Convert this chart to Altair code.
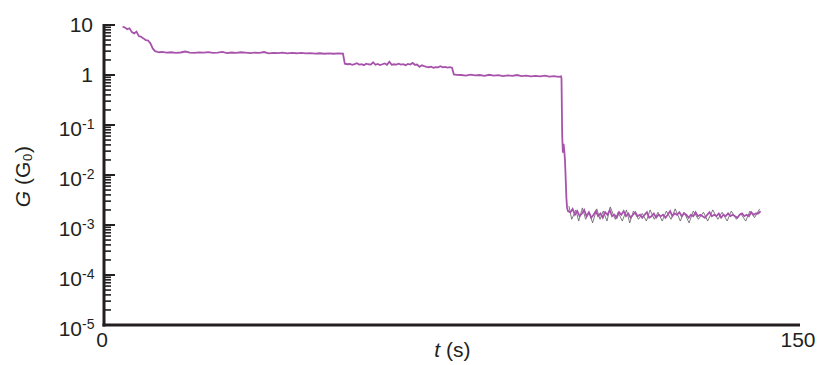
import altair as alt
import pandas as pd

# ---- trace data ----
t_a = [4.0, 4.5, 5.0, 5.5, 6.0, 6.5, 7.0, 7.5, 8.0, 8.5, 9.0, 9.5, 10.0, 10.5, 11.0, 11.5, 12.0]
g_a = [9.3, 8.9, 8.2, 8.6, 7.2, 6.8, 7.4, 6.0, 5.8, 5.4, 5.0, 4.9, 4.3, 3.4, 3.0, 2.9, 2.85]

t_b = [12.5, 13.5, 14.5, 15.5, 16.5, 17.5, 18.5, 19.5, 20.5, 21.5, 22.5, 23.5, 24.5, 25.5,
       26.5, 27.5, 28.5, 29.5, 30.5, 31.5, 32.5, 33.5, 34.5, 35.5, 36.5, 37.5, 38.5, 39.5,
       40.5, 41.5, 42.5, 43.5, 44.5, 45.5, 46.5, 47.5, 48.5, 49.5, 50.5, 51.5]
g_b = [2.9, 2.8, 2.85, 2.78, 2.82, 2.95, 2.8, 2.76, 2.84, 2.8, 2.86, 2.78, 2.8, 2.9,
       2.75, 2.82, 2.78, 2.85, 2.8, 2.74, 2.8, 2.76, 2.88, 2.72, 2.78, 2.74, 2.8, 2.7,
       2.76, 2.72, 2.78, 2.7, 2.74, 2.68, 2.72, 2.66, 2.7, 2.66, 2.7, 2.68]

t_c = [51.9, 52.5, 53.0, 53.5, 54.0, 54.5, 55.0, 55.5, 56.0, 56.5, 57.0, 57.5, 58.0, 58.5,
       59.0, 59.5, 60.0, 60.5, 61.0, 61.5, 62.0, 62.5, 63.0, 63.5, 64.0, 64.5, 65.0, 65.5,
       66.0, 66.5, 67.0, 67.5, 68.0, 68.5, 69.0, 69.5, 70.0, 70.5, 71.0, 71.5, 72.0, 72.5,
       73.0, 73.5, 74.0, 74.5, 75.0]
g_c = [1.68, 1.64, 1.66, 1.6, 1.65, 1.72, 1.62, 1.64, 1.57, 1.68, 1.64, 1.62, 1.8, 1.6,
       1.66, 1.58, 1.64, 1.7, 1.6, 1.84, 1.6, 1.64, 1.62, 1.68, 1.61, 1.65, 1.56, 1.66,
       1.62, 1.74, 1.6, 1.62, 1.46, 1.56, 1.5, 1.46, 1.43, 1.47, 1.4, 1.44, 1.42, 1.5,
       1.42, 1.45, 1.4, 1.43, 1.4]

t_d = [75.4, 76.0, 77.0, 78.0, 79.0, 80.0, 81.0, 82.0, 83.0, 84.0, 85.0, 86.0, 87.0, 88.0,
       89.0, 90.0, 91.0, 92.0, 93.0, 94.0, 95.0, 96.0, 97.0, 98.0, 98.5]
g_d = [1.03, 1.01, 1.0, 0.97, 1.02, 0.98, 1.0, 0.96, 1.01, 0.97, 0.99, 0.95, 0.98, 0.96,
       1.0, 0.95, 0.97, 0.94, 0.96, 0.94, 0.97, 0.93, 0.95, 0.92, 0.94]

t_drop = [98.6, 98.75, 98.9, 99.05, 99.2, 99.35, 99.5, 99.65, 99.8, 100.0]
g_drop = [0.85, 0.06, 0.028, 0.042, 0.03, 0.02, 0.0085, 0.0035, 0.0022, 0.0019]

t_e = [100.5, 101.0, 101.5, 102.0, 102.5, 103.0, 103.5, 104.0, 104.5, 105.0, 105.5, 106.0,
       106.5, 107.0, 107.5, 108.0, 108.5, 109.0, 109.5, 110.0, 110.5, 111.0, 111.5, 112.0,
       112.5, 113.0, 113.5, 114.0, 114.5, 115.0, 115.5, 116.0, 116.5, 117.0, 117.5, 118.0,
       118.5, 119.0, 119.5, 120.0, 120.5, 121.0, 121.5, 122.0, 122.5, 123.0, 123.5, 124.0,
       124.5, 125.0, 125.5, 126.0, 126.5, 127.0, 127.5, 128.0, 128.5, 129.0, 129.5, 130.0,
       130.5, 131.0, 131.5, 132.0, 132.5, 133.0, 133.5, 134.0, 134.5, 135.0, 135.5, 136.0,
       136.5, 137.0, 137.5, 138.0, 138.5, 139.0, 139.5, 140.0, 140.5, 141.0, 141.5]
g_e = [0.0018, 0.0021, 0.0016, 0.0019, 0.0015, 0.0017, 0.0020, 0.0015, 0.0018, 0.0014, 0.0016, 0.0019,
       0.0015, 0.0017, 0.0014, 0.0018, 0.0016, 0.0020, 0.0015, 0.0016, 0.0014, 0.0018, 0.0016, 0.0019,
       0.0015, 0.0017, 0.0014, 0.0016, 0.0018, 0.0015, 0.0016, 0.0014, 0.0016, 0.0018, 0.0014, 0.0015,
       0.0017, 0.0014, 0.0016, 0.0015, 0.0016, 0.0014, 0.0016, 0.0019, 0.0015, 0.0017, 0.0016, 0.0018,
       0.0015, 0.0017, 0.0016, 0.0014, 0.0016, 0.0015, 0.0018, 0.0015, 0.0016, 0.0015, 0.0014, 0.0016,
       0.0018, 0.0015, 0.0016, 0.0015, 0.0017, 0.0014, 0.0016, 0.0015, 0.0017, 0.0015, 0.0016, 0.0015,
       0.0014, 0.0016, 0.0017, 0.0015, 0.0016, 0.0015, 0.0018, 0.0016, 0.0017, 0.0017, 0.0019]

# darker raw trace visible under the purple one in the low-conductance region
t_gray = [100.2, 100.8, 101.7, 102.3, 103.1, 103.8, 104.6, 105.3, 106.2, 106.9, 107.6, 108.4,
          109.1, 110.2, 110.8, 111.7, 112.6, 113.3, 114.1, 115.2, 116.0, 116.9, 117.7, 118.6,
          119.4, 120.3, 121.2, 122.2, 123.1, 124.2, 125.0, 126.1, 127.0, 128.1, 129.2, 130.1,
          131.2, 132.3, 133.2, 134.3, 135.2, 136.3, 137.2, 138.3, 139.2, 140.2, 141.3]
g_gray = [0.0024, 0.0013, 0.0020, 0.0012, 0.0022, 0.0013, 0.0018, 0.0011, 0.0021, 0.0013, 0.0019,
          0.0012, 0.0023, 0.0013, 0.0018, 0.0012, 0.0020, 0.0011, 0.0019, 0.0013, 0.0017, 0.0012,
          0.0020, 0.0013, 0.0018, 0.0012, 0.0019, 0.0013, 0.0021, 0.0012, 0.0018, 0.0011, 0.0019,
          0.0013, 0.0018, 0.0012, 0.0020, 0.0013, 0.0018, 0.0012, 0.0019, 0.0013, 0.0017, 0.0012,
          0.0019, 0.0014, 0.0021]

# ---- axis tick data ----
major_ticks = [1e-5, 1e-4, 1e-3, 1e-2, 1e-1, 1, 10]
minor_mults = [2, 3, 4, 5, 6, 7, 8, 9]
minor_decades = [1e-5, 1e-4, 1e-3, 1e-2, 1e-1, 1]
minor_ticks = [m * d for d in minor_decades for m in minor_mults]
plain_label_vals = [10, 1]
plain_label_txt = ["10", "1"]
exp_label_vals = [1e-1, 1e-2, 1e-3, 1e-4, 1e-5]
exp_label_txt = ["-1", "-2", "-3", "-4", "-5"]
x_label_vals = [0, 150]
x_label_txt = ["0", "150"]

FONT = "Liberation Sans"
INK = "#231f20"
W, H = 696, 300

t_all = t_a + t_b + t_c + t_d + t_drop + t_e
g_all = g_a + g_b + g_c + g_d + g_drop + g_e
main_df = pd.DataFrame({"t": t_all, "G": g_all})
gray_df = pd.DataFrame({"t": t_gray, "G": g_gray})

xscale = alt.Scale(domain=[0, 150], nice=False, zero=False)
yscale = alt.Scale(type="log", domain=[1e-5, 10], nice=False)

gray_line = alt.Chart(gray_df).mark_line(color="#5e5a5e", strokeWidth=0.8).encode(
    x=alt.X("t:Q", scale=xscale, axis=None),
    y=alt.Y("G:Q", scale=yscale, axis=None),
)
purple_line = alt.Chart(main_df).mark_line(color="#a853ab", strokeWidth=1.8).encode(
    x=alt.X("t:Q", scale=xscale, axis=None),
    y=alt.Y("G:Q", scale=yscale, axis=None),
)

# axis lines
one = pd.DataFrame({"k": [0]})
y_domain = alt.Chart(one).mark_rule(color=INK, strokeWidth=3).encode(
    x=alt.value(0), y=alt.value(-1), y2=alt.value(H + 1.5))
x_domain = alt.Chart(one).mark_rule(color=INK, strokeWidth=3).encode(
    x=alt.value(-1.5), x2=alt.value(W), y=alt.value(H))

major_rules = alt.Chart(pd.DataFrame({"v": major_ticks})).mark_rule(
    color=INK, strokeWidth=2).encode(
    x=alt.value(0), x2=alt.value(11),
    y=alt.Y("v:Q", scale=yscale, axis=None),
)
minor_rules = alt.Chart(pd.DataFrame({"v": minor_ticks})).mark_rule(
    color=INK, strokeWidth=1.6).encode(
    x=alt.value(0), x2=alt.value(7),
    y=alt.Y("v:Q", scale=yscale, axis=None),
)

plain_labels = alt.Chart(pd.DataFrame({"v": plain_label_vals, "s": plain_label_txt})).mark_text(
    align="right", baseline="middle", fontSize=21, font=FONT, color=INK, dy=1).encode(
    x=alt.value(-11), y=alt.Y("v:Q", scale=yscale, axis=None), text="s:N")

exp_base = alt.Chart(pd.DataFrame({"v": exp_label_vals, "s": ["10"] * 5})).mark_text(
    align="right", baseline="middle", fontSize=21, font=FONT, color=INK, dy=5).encode(
    x=alt.value(-22), y=alt.Y("v:Q", scale=yscale, axis=None), text="s:N")
exp_sup = alt.Chart(pd.DataFrame({"v": exp_label_vals, "s": exp_label_txt})).mark_text(
    align="left", baseline="middle", fontSize=14, font=FONT, color=INK, dy=0).encode(
    x=alt.value(-22), y=alt.Y("v:Q", scale=yscale, axis=None), text="s:N")

x_labels = alt.Chart(pd.DataFrame({"v": x_label_vals, "s": x_label_txt})).mark_text(
    align="center", baseline="alphabetic", fontSize=21, font=FONT, color=INK, dx=-2).encode(
    x=alt.X("v:Q", scale=xscale, axis=None), y=alt.value(H + 22), text="s:N")

# axis titles (italic variable + upright unit)
xt_var = alt.Chart(pd.DataFrame({"s": ["t"]})).mark_text(
    align="right", baseline="alphabetic", fontSize=21, font=FONT, fontStyle="italic",
    color=INK).encode(x=alt.value(336), y=alt.value(332), text="s:N")
xt_unit = alt.Chart(pd.DataFrame({"s": ["(s)"]})).mark_text(
    align="left", baseline="alphabetic", fontSize=21, font=FONT, color=INK).encode(
    x=alt.value(342), y=alt.value(332), text="s:N")
yt_var = alt.Chart(pd.DataFrame({"s": ["G"]})).mark_text(
    align="right", baseline="alphabetic", fontSize=21, font=FONT, fontStyle="italic",
    color=INK, angle=270).encode(x=alt.value(-74), y=alt.value(166), text="s:N")
yt_unit = alt.Chart(pd.DataFrame({"s": ["(G\u2080)"]})).mark_text(
    align="left", baseline="alphabetic", fontSize=21, font=FONT, color=INK,
    angle=270).encode(x=alt.value(-74), y=alt.value(160), text="s:N")

chart = alt.layer(
    gray_line, purple_line, y_domain, x_domain, major_rules, minor_rules,
    plain_labels, exp_base, exp_sup, x_labels, xt_var, xt_unit, yt_var, yt_unit,
).properties(
    width=W, height=H,
    autosize=alt.AutoSizeParams(type="none"),
    padding={"left": 96, "top": 17, "right": 16, "bottom": 39},
).configure_view(stroke=None)

chart.save("out.html", embed_options={"renderer": "svg", "actions": False})
